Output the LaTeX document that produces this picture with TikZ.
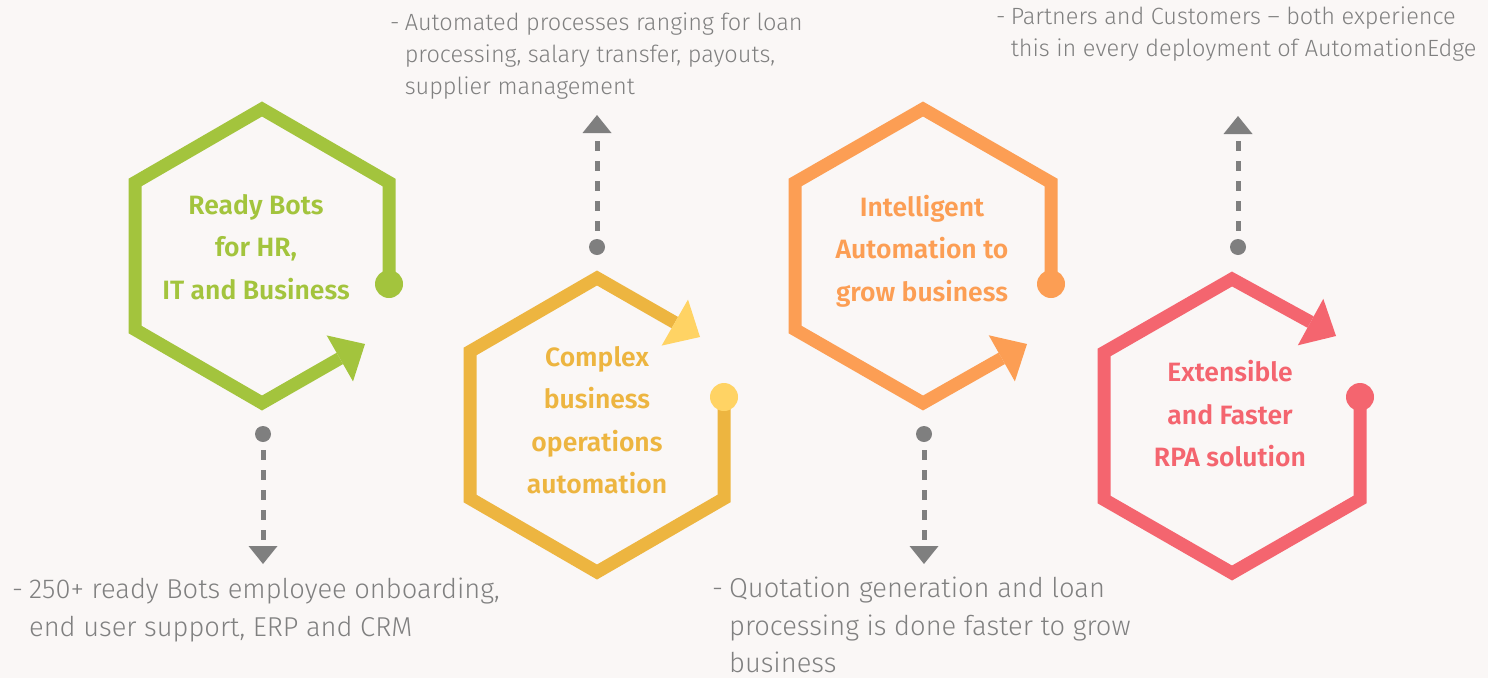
\documentclass[tikz,border=0pt]{standalone}
\usepackage{fontspec}
\usepackage{tikz}
\usetikzlibrary{positioning,arrows.meta}

\newfontfamily\boldfont{Fira Sans SemiBold}
\newfontfamily\lightfont{Fira Sans Light}

\definecolor{pagebg}{HTML}{FAF7F6}
\definecolor{botgreen}{HTML}{A3C43D}
\definecolor{opsyellow}{HTML}{EDB540}
\definecolor{opsyellowlt}{HTML}{FFD364}
\definecolor{aiorange}{HTML}{FC9E54}
\definecolor{rpared}{HTML}{F4656F}
\definecolor{pingray}{HTML}{7F7F7F}
\definecolor{notegray}{HTML}{808080}

% hanging dash for the notes
\newcommand{\notedash}{-\hspace{0.22em}}
\newcommand{\noteindent}{\phantom{\notedash}}

\begin{document}
\begin{tikzpicture}[x=1pt, y=-1pt,
% node style
dot/.style={circle, fill=#1, inner sep=0pt, minimum size=28pt},
pin/.style={circle, fill=pingray, inner sep=0pt, minimum size=16pt},
title/.style={font=\boldfont\fontsize{26.5}{42.5}\selectfont, align=center, text=#1, inner sep=0pt},
note/.style={font=\lightfont\fontsize{23.5}{32}\selectfont, align=left, text=notegray, inner sep=0pt, anchor=north west},
bignote/.style={note, font=\lightfont\fontsize{27.3}{37.5}\selectfont},
hexline/.style 2 args={draw=#1, line width=13pt, line join=miter,
  -{Triangle[length=29pt, width=53pt, line width=0pt, color=#2]}},
dasharrow/.style={draw=pingray, line width=5pt, dash pattern=on 10pt off 10pt,
  shorten <=8pt, -{Triangle[length=18pt, width=29pt, line width=0pt]}}
]

% background
\fill[pagebg] (0,0) rectangle (1488,678);
\useasboundingbox (0,0) rectangle (1488,678);

% green hexagon
\begin{scope}[shift={(262,256)}]
\coordinate (green_end) at (127,28);
\draw[hexline={botgreen}{botgreen}] (green_end) -- (127,-73.5) -- (0,-147) -- (-127,-73.5)
  -- (-127,73.5) -- (0,147) -- (103,88);
\node[dot=botgreen] (green_dot) at (green_end) {};
\node[title=botgreen] (green_text) at (-6,-9) {Ready Bots\\for HR,\\IT and Business};
\end{scope}

% yellow hexagon
\begin{scope}[shift={(597,425)}]
\coordinate (yellow_end) at (127,-28);
\draw[hexline={opsyellow}{opsyellowlt}] (yellow_end) -- (127,73.5) -- (0,147) -- (-127,73.5)
  -- (-127,-73.5) -- (0,-147) -- (103,-88);
\node[dot=opsyellowlt] (yellow_dot) at (yellow_end) {};
\node[title=opsyellow] (yellow_text) at (0,-5) {Complex\\business\\operations\\automation};
\end{scope}

% orange hexagon
\begin{scope}[shift={(923,256)}]
\coordinate (orange_end) at (128,28);
\draw[hexline={aiorange}{aiorange}] (orange_end) -- (128,-73.5) -- (0,-147) -- (-128,-73.5)
  -- (-128,73.5) -- (0,147) -- (104,88);
\node[dot=aiorange] (orange_dot) at (orange_end) {};
\node[title=aiorange] (orange_text) at (-1,-5) {Intelligent\\Automation to\\grow business};
\end{scope}

% red hexagon
\begin{scope}[shift={(1232,426)}]
\coordinate (red_end) at (128,-29);
\draw[hexline={rpared}{rpared}] (red_end) -- (128,73.5) -- (0,147) -- (-128,73.5)
  -- (-128,-73.5) -- (0,-147) -- (104,-90);
\node[dot=rpared] (red_dot) at (red_end) {};
\node[title=rpared] (red_text) at (-2,-12) {Extensible\\and Faster\\RPA solution};
\end{scope}

% pins and dashed arrows
\node[pin] (green_pin) at (263,434) {};
\coordinate (green_tip) at (263,564);
\node[pin] (yellow_pin) at (597,247) {};
\coordinate (yellow_tip) at (597,115);
\node[pin] (orange_pin) at (924,434) {};
\coordinate (orange_tip) at (924,564);
\node[pin] (red_pin) at (1238,247) {};
\coordinate (red_tip) at (1238,116);

\draw[dasharrow] (green_pin) -- (green_tip);
\draw[dasharrow] (yellow_pin) -- (yellow_tip);
\draw[dasharrow] (orange_pin) -- (orange_tip);
\draw[dasharrow] (red_pin) -- (red_tip);

% notes
\node[bignote] (green_note) at (12,578) {\notedash 250+ ready Bots employee onboarding,\\\noteindent end user support, ERP and CRM};
\node[note] (yellow_note) at (390,13) {\notedash Automated processes ranging for loan\\\noteindent processing, salary transfer, payouts,\\\noteindent supplier management};
\node[bignote] (orange_note) at (712,577) {\notedash Quotation generation and loan\\\noteindent processing is done faster to grow\\\noteindent business};
\node[note] (red_note) at (996,7) {\notedash Partners and Customers – both experience\\\noteindent this in every deployment of AutomationEdge};

\end{tikzpicture}
\end{document}
